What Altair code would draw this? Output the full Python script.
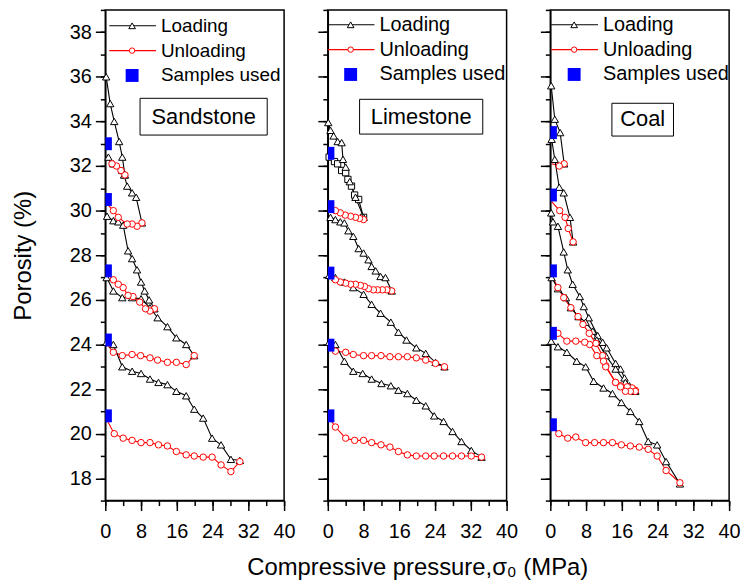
import altair as alt
import pandas as pd

FONT = "Liberation Sans"

# ---------------- Sandstone ----------------
SS_L1_X = [0.2, 1.1, 2.0, 3.1, 3.8, 4.4]
SS_L1_Y = [36.0, 34.8, 34.0, 33.1, 32.4, 31.6]
SS_U1_X = [4.4, 3.5, 2.5, 1.5, 0.3]
SS_U1_Y = [31.6, 31.8, 32.0, 32.1, 32.4]
SS_L2_X = [0.7, 1.8, 3.8, 4.2, 4.9, 6.0, 6.9, 8.2]
SS_L2_Y = [32.4, 32.1, 31.8, 31.6, 31.1, 30.8, 30.6, 29.45]
SS_U2_X = [8.2, 7.1, 6.0, 4.9, 2.9, 1.8, 0.4]
SS_U2_Y = [29.45, 29.3, 29.4, 29.4, 29.7, 30.0, 30.3]
SS_L3_X = [0.4, 1.8, 2.9, 4.0, 5.1, 6.0, 7.1, 8.0, 8.8, 9.8, 11.0]
SS_L3_Y = [29.75, 29.55, 29.5, 29.35, 28.2, 27.85, 27.35, 26.8, 26.4, 26.0, 25.6]
SS_U3_X = [11.0, 10.0, 9.0, 7.7, 6.2, 5.1, 4.0, 2.9, 1.8, 0.4]
SS_U3_Y = [25.6, 25.5, 25.6, 25.9, 26.15, 26.2, 26.55, 26.7, 26.9, 27.2]
SS_L4_X = [0.3, 1.8, 3.8, 6.0, 8.0, 10.0, 11.7, 13.9, 15.9, 18.1, 19.9]
SS_L4_Y = [27.0, 26.4, 26.1, 26.1, 26.05, 25.65, 25.2, 24.8, 24.3, 24.0, 23.5]
SS_U4_X = [19.9, 18.1, 15.9, 13.9, 11.7, 10.0, 7.9, 6.0, 3.8, 1.8, 0.4]
SS_U4_Y = [23.5, 23.1, 23.2, 23.2, 23.3, 23.4, 23.5, 23.55, 23.5, 23.65, 24.0]
SS_L5_X = [0.3, 1.8, 3.8, 6.0, 8.0, 10.0, 11.9, 13.9, 15.9, 18.1, 19.9, 21.9, 23.9, 25.9, 28.1, 30.1]
SS_L5_Y = [24.1, 24.0, 23.0, 22.8, 22.7, 22.45, 22.3, 22.2, 21.9, 21.7, 21.1, 20.7, 19.8, 19.5, 18.85, 18.8]
SS_U5_X = [30.1, 28.1, 25.9, 23.9, 21.9, 19.9, 18.1, 15.9, 13.9, 11.9, 10.0, 8.0, 6.0, 4.0, 2.0, 0.4]
SS_U5_Y = [18.75, 18.3, 18.6, 18.95, 18.95, 19.0, 19.05, 19.2, 19.45, 19.5, 19.6, 19.6, 19.7, 19.8, 20.0, 20.6]
SS_SAMPLES_Y = [33.0, 30.5, 27.3, 24.2, 20.8]

# ---------------- Limestone ----------------
LS_L1_X = [0.1, 0.6, 1.3, 2.2, 3.1, 3.4, 4.0, 4.9, 6.2, 8.0]
LS_L1_Y = [33.95, 33.6, 33.35, 33.1, 33.05, 32.3, 31.95, 31.3, 30.6, 29.7]
LS_S1_X = [0.3, 1.5, 2.2, 3.1, 4.0, 4.5, 5.3, 6.0, 6.9, 8.0]
LS_S1_Y = [32.4, 32.2, 32.1, 31.8, 31.7, 31.4, 31.1, 30.7, 30.5, 29.7]
LS_U1_X = [8.0, 7.1, 6.2, 5.1, 3.9, 2.8, 1.7, 0.4]
LS_U1_Y = [29.6, 29.65, 29.7, 29.75, 29.8, 29.9, 30.0, 30.15]
LS_L2_X = [0.6, 1.7, 2.8, 3.7, 4.6, 5.7, 6.9, 8.0, 9.1, 9.8, 10.7, 11.8, 12.9, 14.3]
LS_L2_Y = [29.7, 29.6, 29.5, 29.45, 29.1, 28.85, 28.3, 28.1, 27.8, 27.5, 27.3, 27.05, 27.0, 26.4]
LS_U2_X = [14.3, 13.2, 12.2, 11.1, 10.2, 9.1, 8.2, 7.3, 6.2, 5.1, 4.0, 2.8, 1.7, 0.4]
LS_U2_Y = [26.4, 26.45, 26.45, 26.45, 26.45, 26.5, 26.6, 26.65, 26.7, 26.7, 26.75, 26.8, 26.9, 27.1]
LS_L3_X = [0.3, 1.7, 3.7, 5.7, 8.0, 9.8, 11.8, 14.1, 15.8, 17.6, 19.8, 21.9, 24.1, 26.1]
LS_L3_Y = [27.1, 27.0, 26.8, 26.55, 26.25, 25.8, 25.4, 25.0, 24.55, 24.2, 23.85, 23.6, 23.2, 23.0]
LS_U3_X = [26.1, 24.1, 21.9, 19.8, 17.8, 15.8, 13.9, 11.9, 9.8, 8.0, 5.7, 4.0, 1.7, 0.4]
LS_U3_Y = [23.0, 23.15, 23.3, 23.4, 23.45, 23.45, 23.45, 23.5, 23.5, 23.5, 23.55, 23.65, 23.7, 23.9]
LS_L4_X = [0.3, 1.7, 3.7, 5.7, 7.8, 9.8, 12.0, 14.1, 15.8, 17.8, 19.8, 21.9, 23.8, 25.9, 27.9, 29.9, 32.1, 34.4]
LS_L4_Y = [24.1, 24.0, 23.25, 22.8, 22.7, 22.45, 22.25, 22.15, 21.95, 21.8, 21.5, 21.25, 20.8, 20.55, 20.1, 19.65, 19.25, 18.95]
LS_U4_X = [34.4, 32.1, 29.9, 27.9, 25.9, 23.8, 21.9, 19.8, 17.8, 15.8, 13.9, 11.9, 9.8, 8.0, 6.0, 4.0, 1.7, 0.4]
LS_U4_Y = [18.95, 19.0, 19.0, 19.0, 19.0, 19.0, 19.0, 19.0, 19.05, 19.2, 19.4, 19.5, 19.6, 19.7, 19.7, 19.8, 20.3, 20.7]
LS_SAMPLES_Y = [32.57, 30.18, 27.2, 23.97, 20.8]

# ---------------- Coal ----------------
CO_L1_X = [0.2, 1.0, 2.2, 3.1]
CO_L1_Y = [35.6, 34.1, 33.5, 32.1]
CO_U1_X = [3.1, 2.0, 0.3]
CO_U1_Y = [32.1, 32.0, 32.1]
CO_L2_X = [0.3, 1.0, 2.0, 3.0, 4.4, 5.1]
CO_L2_Y = [33.2, 32.3, 31.05, 30.8, 29.7, 28.6]
CO_U2_X = [5.1, 4.0, 3.3, 2.1, 0.3]
CO_U2_Y = [28.6, 29.2, 29.7, 30.0, 30.4]
CO_L3_X = [0.2, 0.6, 1.7, 3.0, 3.9, 5.0, 6.6, 7.5, 8.6, 10.6, 11.7, 12.6, 14.6, 15.7, 16.6, 17.7, 19.0]
CO_L3_Y = [29.9, 29.5, 29.3, 28.15, 27.35, 26.7, 26.15, 25.7, 25.2, 24.4, 24.1, 23.85, 23.15, 22.9, 22.5, 22.15, 21.95]
CO_U3_X = [19.0, 18.3, 17.2, 15.7, 14.6, 12.4, 11.7, 10.2, 8.7, 7.3, 6.2, 4.6, 3.0, 1.7, 0.3]
CO_U3_Y = [21.95, 22.05, 22.1, 22.15, 22.3, 23.05, 23.5, 24.05, 24.5, 24.9, 25.25, 25.65, 26.1, 26.55, 27.1]
CO_L4_X = [0.3, 1.7, 3.5, 4.6, 6.3, 7.9, 9.5, 10.4, 12.4, 14.6, 16.8, 19.0]
CO_L4_Y = [27.0, 26.5, 26.1, 25.65, 25.25, 25.0, 24.6, 24.2, 23.5, 22.9, 22.3, 21.9]
CO_U4_X = [19.0, 17.9, 16.8, 15.7, 14.6, 12.4, 11.9, 10.4, 8.8, 7.7, 5.7, 3.7, 1.7, 0.3]
CO_U4_Y = [21.9, 21.9, 21.9, 22.1, 22.3, 23.0, 23.25, 23.5, 24.0, 24.1, 24.15, 24.15, 24.5, 24.7]
CO_L5_X = [0.2, 1.7, 3.7, 5.9, 7.9, 9.7, 11.9, 13.9, 15.9, 17.9, 19.9, 21.9, 23.9, 25.9, 29.0]
CO_L5_Y = [24.15, 23.9, 23.65, 23.25, 23.0, 22.35, 22.05, 21.8, 21.4, 21.0, 20.55, 19.65, 19.5, 18.75, 17.75]
CO_U5_X = [29.0, 25.9, 23.9, 21.9, 19.9, 17.9, 15.9, 13.9, 11.9, 9.9, 7.9, 5.7, 3.9, 1.9, 0.3]
CO_U5_Y = [17.8, 18.35, 19.0, 19.3, 19.4, 19.45, 19.5, 19.6, 19.6, 19.6, 19.6, 19.85, 19.8, 20.0, 20.3]
CO_SAMPLES_Y = [33.5, 30.7, 27.3, 24.5, 20.4]

SAMPLE_X = 0.75

PANELS = ["Sandstone", "Limestone", "Coal"]
LEGEND_LABELS = ["Loading", "Unloading", "Samples used"]
X_MAJOR = [0, 8, 16, 24, 32, 40]
X_MINOR = [0, 4, 8, 12, 16, 20, 24, 28, 32, 36, 40]
Y_MAJOR = [18, 20, 22, 24, 26, 28, 30, 32, 34, 36, 38]
Y_MINOR = list(range(17, 40))
X_TITLE = "Compressive pressure,σ₀ (MPa)"
Y_TITLE = "Porosity (%)"

RECT_PATH = "M-0.5,-1L0.5,-1L0.5,1L-0.5,1Z"
BLUE = "#0000FF"
RED = "#FF0000"

W, H = 180, 494
xscale = alt.Scale(domain=[0, 40], nice=False, zero=False)
yscale = alt.Scale(domain=[17, 39], nice=False, zero=False)


def series_df(kind, cyc, xs, ys):
    n = len(xs)
    marker = [True] * n
    if kind == "unload":
        marker[-1] = False
    return pd.DataFrame({"kind": kind, "cycle": cyc, "idx": list(range(n)),
                         "x": xs, "y": ys, "marker": marker})


def panel(name, loads, unloads, squares, samples_y, show_y, show_x_title,
          leg_off, leg_y, leg_fs, box, box_text):
    parts = []
    for i, (xs, ys) in enumerate(loads):
        parts.append(series_df("load", i, xs, ys))
    for i, (xs, ys) in enumerate(unloads):
        parts.append(series_df("unload", i, xs, ys))
    for i, (xs, ys) in enumerate(squares):
        parts.append(series_df("square", i, xs, ys))
    df = pd.concat(parts, ignore_index=True)

    X = alt.X("x:Q", scale=xscale, axis=None)
    Y = alt.Y("y:Q", scale=yscale, axis=None)
    base = alt.Chart(df)

    layers = []
    un = base.transform_filter(alt.datum.kind == "unload")
    layers.append(un.mark_line(color=RED, strokeWidth=1.1).encode(
        X, Y, detail="cycle:N", order="idx:Q"))
    ld = base.transform_filter(alt.datum.kind == "load")
    layers.append(ld.mark_line(color="black", strokeWidth=1.1).encode(
        X, Y, detail="cycle:N", order="idx:Q"))
    sq = base.transform_filter(alt.datum.kind == "square")
    if squares:
        layers.append(sq.mark_line(color="black", strokeWidth=1.1).encode(
            X, Y, detail="cycle:N", order="idx:Q"))
        layers.append(sq.mark_point(shape="square", filled=True, fill="white",
                                    stroke="black", strokeWidth=1, size=40,
                                    opacity=1).encode(X, Y))
    layers.append(ld.mark_point(shape="triangle-up", filled=True, fill="white",
                                stroke="black", strokeWidth=1, size=55,
                                opacity=1).encode(X, Y))
    layers.append(un.transform_filter(alt.datum.marker).mark_point(
        shape="circle", filled=True, fill="white", stroke=RED, strokeWidth=1,
        size=42, opacity=1).encode(X, Y))

    # samples used + axes
    sdf = pd.DataFrame({"x": [SAMPLE_X] * len(samples_y), "y": samples_y})
    x_major_axis = alt.Axis(values=X_MAJOR, tickSize=10, labelPadding=11,
                            titlePadding=14, grid=False, labelFlush=False,
                            labelOverlap=False, orient="bottom")
    y_major_axis = alt.Axis(values=Y_MAJOR, tickSize=10, labelPadding=4,
                            titlePadding=34, grid=False, labels=show_y,
                            labelOverlap=False, orient="left")
    if show_x_title:
        xa = alt.X("x:Q", scale=xscale, axis=x_major_axis, title=X_TITLE)
    else:
        xa = alt.X("x:Q", scale=xscale, axis=x_major_axis, title=None)
    if show_y:
        ya = alt.Y("y:Q", scale=yscale, axis=y_major_axis, title=Y_TITLE)
    else:
        ya = alt.Y("y:Q", scale=yscale, axis=y_major_axis, title=None)
    samples = alt.Chart(sdf).mark_point(shape=RECT_PATH, size=169, filled=True,
                                        color=BLUE, opacity=1,
                                        strokeWidth=0).encode(xa, ya)
    minor = alt.Chart(sdf).mark_point(opacity=0).encode(
        alt.X("x:Q", scale=xscale, title=None,
              axis=alt.Axis(values=X_MINOR, tickSize=5, labels=False,
                            domain=False, grid=False, orient="bottom")),
        alt.Y("y:Q", scale=yscale, title=None,
              axis=alt.Axis(values=Y_MINOR, tickSize=5, labels=False,
                            domain=False, grid=False, orient="left")))
    layers.append(samples)
    layers.append(minor)

    # in-plot legend
    one = pd.DataFrame({"a": [0]})
    o = leg_off
    ly = leg_y
    layers.append(alt.Chart(one).mark_rule(color="black", strokeWidth=1.1).encode(
        x=alt.value(o), x2=alt.value(o + 47), y=alt.value(ly[0])))
    layers.append(alt.Chart(one).mark_point(shape="triangle-up", filled=True,
                                            fill="white", stroke="black",
                                            strokeWidth=1, size=45, opacity=1).encode(
        x=alt.value(o + 23), y=alt.value(ly[0])))
    layers.append(alt.Chart(one).mark_rule(color=RED, strokeWidth=1.1).encode(
        x=alt.value(o), x2=alt.value(o + 47), y=alt.value(ly[1])))
    layers.append(alt.Chart(one).mark_point(shape="circle", filled=True,
                                            fill="white", stroke=RED,
                                            strokeWidth=1, size=30, opacity=1).encode(
        x=alt.value(o + 23), y=alt.value(ly[1])))
    layers.append(alt.Chart(one).mark_point(shape="square", filled=True,
                                            color=BLUE, size=169, opacity=1).encode(
        x=alt.value(o + 23), y=alt.value(ly[2])))
    for lab, yy in zip(LEGEND_LABELS, ly):
        layers.append(alt.Chart(one).mark_text(
            align="left", baseline="middle", font=FONT, fontSize=leg_fs,
            color="black").encode(x=alt.value(o + 52), y=alt.value(yy),
                                  text=alt.value(lab)))

    # name box
    bx0, bx1, by0, by1 = box
    layers.append(alt.Chart(one).mark_rect(fill="white", stroke="black",
                                           strokeWidth=1).encode(
        x=alt.value(bx0), x2=alt.value(bx1), y=alt.value(by0), y2=alt.value(by1)))
    layers.append(alt.Chart(one).mark_text(
        align="center", baseline="middle", font=FONT, fontSize=22,
        color="black").encode(x=alt.value(box_text[0]), y=alt.value(box_text[1]),
                              text=alt.value(name)))

    return alt.layer(*layers).resolve_axis(x="independent", y="independent").properties(
        width=W, height=H)


p1 = panel(PANELS[0],
           [(SS_L1_X, SS_L1_Y), (SS_L2_X, SS_L2_Y), (SS_L3_X, SS_L3_Y),
            (SS_L4_X, SS_L4_Y), (SS_L5_X, SS_L5_Y)],
           [(SS_U1_X, SS_U1_Y), (SS_U2_X, SS_U2_Y), (SS_U3_X, SS_U3_Y),
            (SS_U4_X, SS_U4_Y), (SS_U5_X, SS_U5_Y)],
           [], SS_SAMPLES_Y, True, False,
           4, [16, 41, 66], 19, (35, 163, 89, 126), (99, 108))
p2 = panel(PANELS[1],
           [(LS_L1_X, LS_L1_Y), (LS_L2_X, LS_L2_Y), (LS_L3_X, LS_L3_Y),
            (LS_L4_X, LS_L4_Y)],
           [(LS_U1_X, LS_U1_Y), (LS_U2_X, LS_U2_Y), (LS_U3_X, LS_U3_Y),
            (LS_U4_X, LS_U4_Y)],
           [(LS_S1_X, LS_S1_Y)], LS_SAMPLES_Y, False, True,
           0, [15, 40, 65], 20, (32, 156, 90, 125), (94, 108))
p3 = panel(PANELS[2],
           [(CO_L1_X, CO_L1_Y), (CO_L2_X, CO_L2_Y), (CO_L3_X, CO_L3_Y),
            (CO_L4_X, CO_L4_Y), (CO_L5_X, CO_L5_Y)],
           [(CO_U1_X, CO_U1_Y), (CO_U2_X, CO_U2_Y), (CO_U3_X, CO_U3_Y),
            (CO_U4_X, CO_U4_Y), (CO_U5_X, CO_U5_Y)],
           [], CO_SAMPLES_Y, False, False,
           1, [15, 40, 65], 20, (62, 124, 94, 127), (93, 110))

chart = alt.hconcat(p1, p2, p3, spacing=44, bounds="flush").configure_view(
    stroke="black", strokeWidth=1.5
).configure_axis(
    domainColor="black", domainWidth=1.5, tickColor="black", tickWidth=1.5,
    labelFont=FONT, labelFontSize=20, labelColor="black",
    titleFont=FONT, titleFontSize=24, titleFontWeight="normal", titleColor="black",
).properties(
    padding={"left": 11, "top": 6, "right": 5, "bottom": 5},
    background="white",
)

chart.save("out.html", embed_options={"renderer": "svg", "actions": False})
